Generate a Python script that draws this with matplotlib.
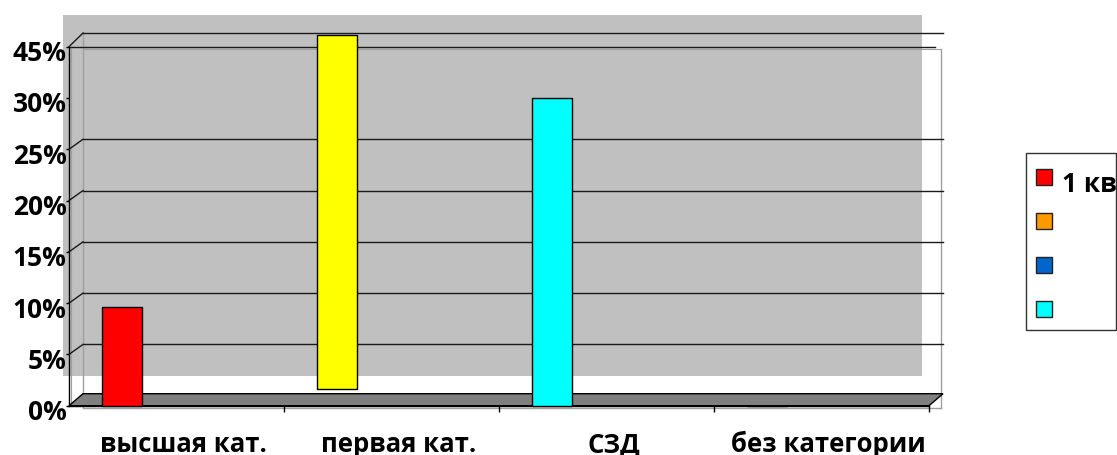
import matplotlib
matplotlib.use('Agg')
import matplotlib.pyplot as plt
from matplotlib.patches import Rectangle, Polygon
from matplotlib.lines import Line2D
from matplotlib.transforms import ScaledTranslation, IdentityTransform, blended_transform_factory
import numpy as np

# ---------------- data ----------------
categories = ['высшая кат.', 'первая кат.', 'СЗД', 'без категории']
values = [0.096, 0.345, 0.300, 0.0]
base = [0.0, 0.016, 0.0, 0.0]
bar_colors = ['#FF0000', '#FFFF00', '#00FFFF', '#00FFFF']
ytick_vals = [0, 0.05, 0.10, 0.15, 0.20, 0.25, 0.30, 0.35]
ytick_labels = ['0%', '5%', '10%', '15%', '20%', '25%', '30%', '45%']
grid_vals = [0.05, 0.10, 0.15, 0.20, 0.25]
legend_labels = ['1 кв.', '', '', '']
legend_colors = ['#FF0000', '#FF9900', '#0066CC', '#00FFFF']

# ---------------- figure ----------------
W, H, DPI = 1117, 455, 100
plt.rcParams['font.family'] = ['Open Sans', 'DejaVu Sans']
fig = plt.figure(figsize=(W / DPI, H / DPI), dpi=DPI)
fig.patch.set_facecolor('white')


def fx(px):
    return px / W


def fy(py):
    return 1 - py / H


def fline(x0, y0, x1, y1, color, lw=1.0, z=0):
    fig.add_artist(Line2D([fx(x0), fx(x1)], [fy(y0), fy(y1)], transform=fig.transFigure,
                          color=color, lw=lw, zorder=z))


# gray plot-area background
fig.add_artist(Rectangle((fx(63), fy(376)), fx(922) - fx(63), fy(15) - fy(376),
                         transform=fig.transFigure, facecolor='#C0C0C0',
                         edgecolor='none', zorder=-10))

# back wall frame (thin gray)
frame_c = '#A0A0A0'
fline(83, 33, 83, 408, frame_c, z=-5)
fline(83, 408, 941, 408, frame_c, z=-5)
fline(941, 49, 941, 408, frame_c, z=-5)
fline(83, 49, 941, 49, frame_c, lw=0.8, z=-5)
fline(71, 47, 71, 405, frame_c, lw=0.8, z=-5)

ax = fig.add_axes([fx(69), fy(405.7), fx(929) - fx(69), fy(46.7) - fy(405.7)])
ax.patch.set_visible(False)
ax.set_xlim(0, 4)
ax.set_ylim(0, 0.35)

for s in ['top', 'right']:
    ax.spines[s].set_visible(False)
ax.spines['left'].set_color('black')
ax.spines['bottom'].set_color('black')
ax.spines['left'].set_linewidth(1)
ax.spines['bottom'].set_linewidth(1)

ax.set_yticks(ytick_vals)
ax.set_yticklabels(ytick_labels, fontsize=19, fontweight='bold')
ax.tick_params(axis='y', length=2.5, width=1, pad=0, colors='black')
off = ScaledTranslation(1 / DPI, -4 / DPI, fig.dpi_scale_trans)
for lab in ax.get_yticklabels():
    lab.set_transform(lab.get_transform() + off)

ax.set_xticks([1, 2, 3, 4])
ax.set_xticklabels([])
ax.tick_params(axis='x', length=4.5, width=1, direction='out', colors='black')

# back-wall gridlines (3D depth offset)
back = ax.transData + ScaledTranslation(14 / DPI, 10 / DPI, fig.dpi_scale_trans)
back_top = ax.transData + ScaledTranslation(14 / DPI, 13.7 / DPI, fig.dpi_scale_trans)
for v in grid_vals:
    ax.plot([0, 4], [v, v], transform=back, color='#1a1a1a', lw=1, zorder=1, clip_on=False)
ax.plot([0, 4], [0.35, 0.35], transform=back_top, color='#1a1a1a', lw=1, zorder=1, clip_on=False)
ax.plot([0, 4.03], [0.35, 0.35], color='#1a1a1a', lw=1, zorder=1, clip_on=False)

# diagonal connectors on the side wall
for v in grid_vals + [0.35]:
    p = ax.transData.transform((0, v))
    dy = 13.7 if v == 0.35 else 10
    fig.add_artist(Line2D([p[0], p[0] + 14], [p[1], p[1] + dy], transform=IdentityTransform(),
                          color='#1a1a1a', lw=1, zorder=1))

# floor
p0 = ax.transData.transform((0, 0))
p1 = ax.transData.transform((4, 0))
floor = Polygon([p0, p1, p1 + np.array([14, 12]), p0 + np.array([14, 12])], closed=True,
                transform=IdentityTransform(), facecolor='#808080', edgecolor='black',
                lw=1, zorder=2)
fig.add_artist(floor)

# bars
x = np.arange(len(categories)) + 0.247
ax.bar(x, values, width=0.186, bottom=base, color=bar_colors, edgecolor='black',
       linewidth=1, zorder=5, clip_on=False)
ax.set_zorder(3)

# category labels
tr = blended_transform_factory(ax.transData, fig.transFigure)
for i, c in enumerate(categories):
    ax.text(i + 0.5 + 0.033, fy(452), c, transform=tr, ha='center', va='baseline',
            fontsize=18.5, fontweight='bold', color='black', clip_on=False)

# legend
box = Rectangle((fx(1025.7), fy(330)), fx(1115.7) - fx(1025.7), fy(153.3) - fy(330),
                transform=fig.transFigure, facecolor='white', edgecolor='#333333', lw=1, zorder=4)
fig.add_artist(box)
for k, (lab, col) in enumerate(zip(legend_labels, legend_colors)):
    top = 169.3 + 44 * k
    fig.add_artist(Rectangle((fx(1036.7), fy(top + 17)), fx(16), fy(0) - fy(16),
                             transform=fig.transFigure, facecolor='#BBBBBB',
                             edgecolor='none', zorder=5))
    fig.add_artist(Rectangle((fx(1035.7), fy(top + 16)), fx(16), fy(0) - fy(16),
                             transform=fig.transFigure, facecolor=col,
                             edgecolor='#222222', lw=1, zorder=6))
    if lab:
        t = fig.text(fx(1061.7), fy(top + 22.7), lab, ha='left', va='baseline',
                     fontsize=19, fontweight='bold', color='black', zorder=6)
        t.set_clip_path(box)

fig.savefig('out.png', dpi=DPI)
